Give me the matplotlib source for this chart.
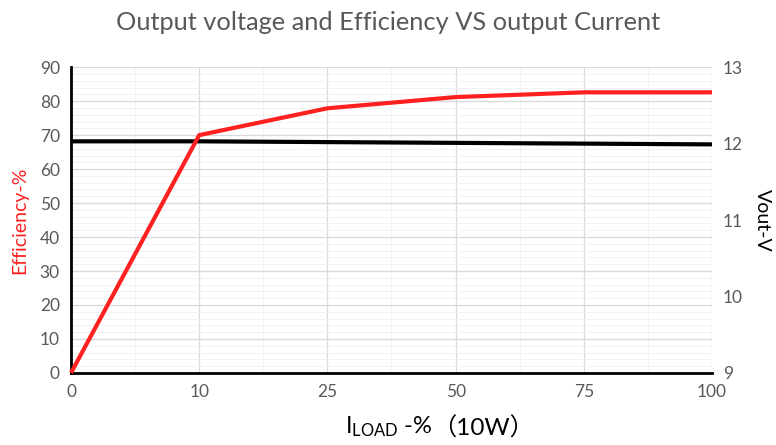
import matplotlib
matplotlib.use("Agg")
import matplotlib.pyplot as plt
import numpy as np
from matplotlib.ticker import MultipleLocator

plt.rcParams['font.family'] = ['Lato', 'Noto Sans CJK SC', 'DejaVu Sans']
plt.rcParams['mathtext.fontset'] = 'custom'
plt.rcParams['mathtext.rm'] = 'Lato'

categories = ["0", "10", "25", "50", "75", "100"]
efficiency = [0, 70, 77.9, 81.2, 82.6, 82.6]
vout = [12.03, 12.03, 12.02, 12.01, 12.00, 11.99]

fig = plt.figure(figsize=(7.76, 4.45), dpi=100)
ax = fig.add_axes([0.0915, 0.162, 0.826, 0.687])
x = np.arange(len(categories))

ax.set_xlim(0, len(categories) - 1)
ax.set_ylim(0, 90)
ax.yaxis.set_major_locator(MultipleLocator(10))
ax.yaxis.set_minor_locator(MultipleLocator(2))
ax.xaxis.set_minor_locator(MultipleLocator(0.5))
ax.set_xticks(x)
ax.set_xticklabels(categories)
ax.grid(which='major', color='#d9d9d9', linewidth=0.9)
ax.grid(which='minor', color='#f0f0f0', linewidth=0.6)
ax.set_axisbelow(True)
ax.tick_params(which='both', length=0)
ax.tick_params(axis='both', labelsize=12.5, colors='#595959', pad=8)

for s in ['top', 'right']:
    ax.spines[s].set_visible(False)
ax.spines['left'].set_color('black')
ax.spines['left'].set_linewidth(2)
ax.spines['bottom'].set_color('black')
ax.spines['bottom'].set_linewidth(2)

ax2 = ax.twinx()
ax2.set_ylim(9, 13)
ax2.yaxis.set_major_locator(MultipleLocator(1))
ax2.plot(x, vout, color='black', linewidth=3, zorder=3, solid_capstyle='butt')
# efficiency drawn on top, in the efficiency axis' own data coordinates
ax2.plot(x, efficiency, color='#ff2020', linewidth=3, zorder=4,
         solid_capstyle='butt', transform=ax.transData, clip_on=False)
for s in ['top', 'right', 'left', 'bottom']:
    ax2.spines[s].set_visible(False)
ax2.tick_params(which='both', length=0)
ax2.tick_params(axis='y', labelsize=12.5, colors='#595959', pad=8)

ax.set_ylabel("Efficiency-%", color='#ff2020', fontsize=14, labelpad=8)
ax2.set_ylabel("Vout-V", color='black', fontsize=14, rotation=-90, labelpad=20)

xl = fig.text(0.557, 0.025, r"$\mathregular{I_{LOAD}}$ -%", fontsize=17,
              color='black', ha='right', va='baseline')
ax.annotate("（10W）", xy=(1, 0), xycoords=xl, fontsize=17.5, color='black',
            ha='left', va='bottom', annotation_clip=False)

fig.suptitle("Output voltage and Efficiency VS output Current", fontsize=18.3,
             color='#595959', y=0.975)

fig.savefig("out.png", dpi=100, facecolor='white')
